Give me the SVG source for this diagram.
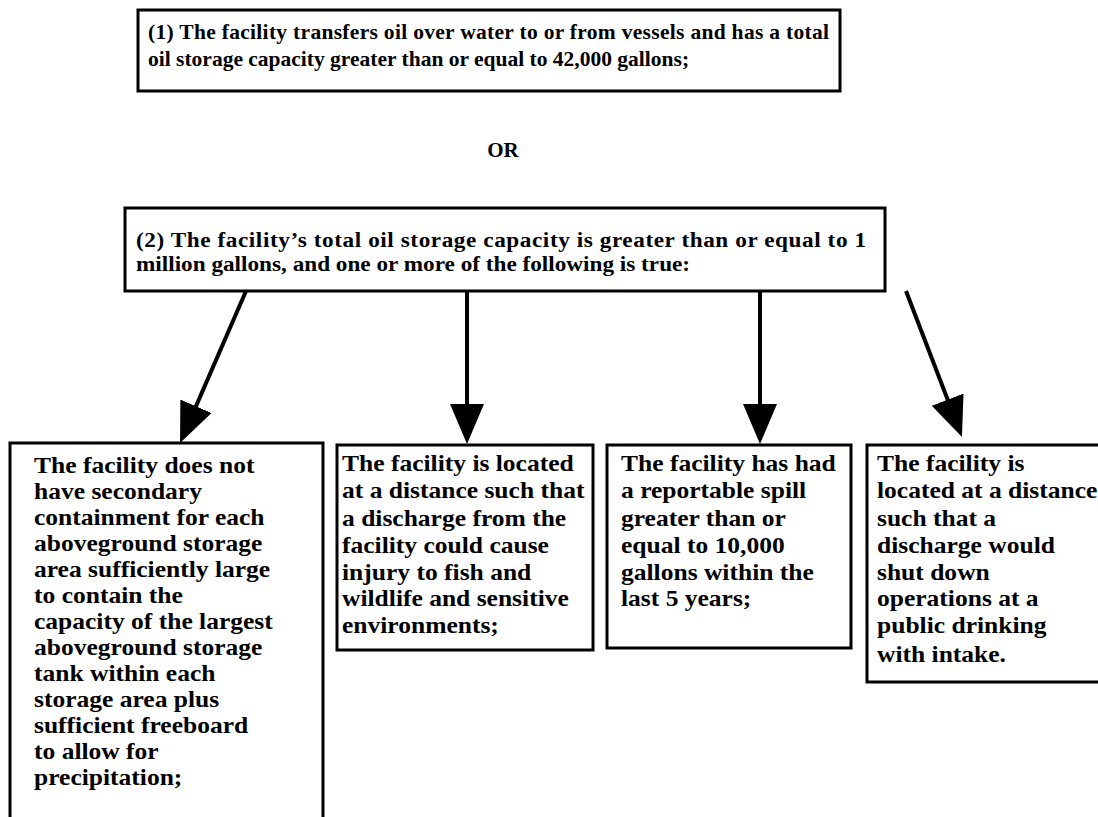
<svg xmlns="http://www.w3.org/2000/svg" width="1098" height="817" viewBox="0 0 1098 817">
  <style>
    .box { fill: #ffffff; stroke: #000000; stroke-width: 3; }
    .edge { fill: none; stroke: #000000; stroke-width: 4; }
    .head { font-family: "Liberation Serif", "Times New Roman", serif; font-size: 21.5px; font-weight: bold; fill: #000000; }
    .or { font-family: "Liberation Serif", "Times New Roman", serif; font-size: 21px; font-weight: bold; fill: #000000; }
    .body { font-family: "Liberation Serif", "Times New Roman", serif; font-size: 23px; font-weight: bold; fill: #000000; }
  </style>
  <defs>
    <marker id="arrow" markerUnits="userSpaceOnUse" markerWidth="42" markerHeight="36" refX="20" refY="17" orient="auto">
      <path d="M0,0 L40,17 L0,34 Z" fill="#000000"/>
    </marker>
  </defs>

  <rect width="1098" height="817" fill="#ffffff"/>

  <!-- condition 1 -->
  <g id="cond1">
    <rect class="box" x="138" y="10" width="702" height="81"/>
    <text class="head" x="148" y="39" textLength="681" lengthAdjust="spacing">(1) The facility transfers oil over water to or from vessels and has a total</text>
    <text class="head" x="148" y="66">oil storage capacity greater than or equal to 42,000 gallons;</text>
  </g>

  <g id="or">
    <text class="or" x="503" y="157" text-anchor="middle">OR</text>
  </g>

  <!-- condition 2 (text set slightly wide) -->
  <g id="cond2">
    <rect class="box" x="125" y="208" width="760" height="83"/>
    <g transform="matrix(1.08 0 0 1 136 0)">
      <text class="head" x="0" y="247" textLength="676" lengthAdjust="spacing">(2) The facility’s total oil storage capacity is greater than or equal to 1</text>
      <text class="head" x="0" y="271">million gallons, and one or more of the following is true:</text>
    </g>
  </g>

  <!-- connectors from condition 2 to the four criteria -->
  <g id="connectors">
    <path class="edge" d="M246,291 L188,424.6" marker-end="url(#arrow)"/>
    <path class="edge" d="M467,291 L467,424" marker-end="url(#arrow)"/>
    <path class="edge" d="M760,291 L760,424" marker-end="url(#arrow)"/>
    <path class="edge" d="M906,291 L954.8,418.3" marker-end="url(#arrow)"/>
  </g>

  <!-- criterion A: secondary containment (box runs off the bottom) -->
  <g id="critA">
    <path class="box" d="M10,820 L10,443 L323,443 L323,820"/>
    <g transform="matrix(1.11 0 0 1 34 0)">
      <text class="body" x="0" y="473">The facility does not</text>
      <text class="body" x="0" y="499">have secondary</text>
      <text class="body" x="0" y="525">containment for each</text>
      <text class="body" x="0" y="551">aboveground storage</text>
      <text class="body" x="0" y="577">area sufficiently large</text>
      <text class="body" x="0" y="603">to contain the</text>
      <text class="body" x="0" y="629">capacity of the largest</text>
      <text class="body" x="0" y="655">aboveground storage</text>
      <text class="body" x="0" y="681">tank within each</text>
      <text class="body" x="0" y="707">storage area plus</text>
      <text class="body" x="0" y="733">sufficient freeboard</text>
      <text class="body" x="0" y="759">to allow for</text>
      <text class="body" x="0" y="785">precipitation;</text>
    </g>
  </g>

  <!-- criterion B: fish and wildlife -->
  <g id="critB">
    <rect class="box" x="337" y="445" width="256" height="205"/>
    <g transform="matrix(1.11 0 0 1 342 0)">
      <text class="body" x="0" y="471">The facility is located</text>
      <text class="body" x="0" y="498">at a distance such that</text>
      <text class="body" x="0" y="526">a discharge from the</text>
      <text class="body" x="0" y="553">facility could cause</text>
      <text class="body" x="0" y="580">injury to fish and</text>
      <text class="body" x="0" y="606">wildlife and sensitive</text>
      <text class="body" x="0" y="633">environments;</text>
    </g>
  </g>

  <!-- criterion C: reportable spill -->
  <g id="critC">
    <rect class="box" x="607" y="445" width="244" height="203"/>
    <g transform="matrix(1.11 0 0 1 621 0)">
      <text class="body" x="0" y="471">The facility has had</text>
      <text class="body" x="0" y="498">a reportable spill</text>
      <text class="body" x="0" y="526">greater than or</text>
      <text class="body" x="0" y="553">equal to 10,000</text>
      <text class="body" x="0" y="580">gallons within the</text>
      <text class="body" x="0" y="606">last 5 years;</text>
    </g>
  </g>

  <!-- criterion D: drinking water intake -->
  <g id="critD">
    <rect class="box" x="867" y="445" width="240" height="237"/>
    <g transform="matrix(1.11 0 0 1 877 0)">
      <text class="body" x="0" y="471">The facility is</text>
      <text class="body" x="0" y="498">located at a distance</text>
      <text class="body" x="0" y="526">such that a</text>
      <text class="body" x="0" y="553">discharge would</text>
      <text class="body" x="0" y="580">shut down</text>
      <text class="body" x="0" y="606">operations at a</text>
      <text class="body" x="0" y="633">public drinking</text>
      <text class="body" x="0" y="662">with intake.</text>
    </g>
  </g>
</svg>
